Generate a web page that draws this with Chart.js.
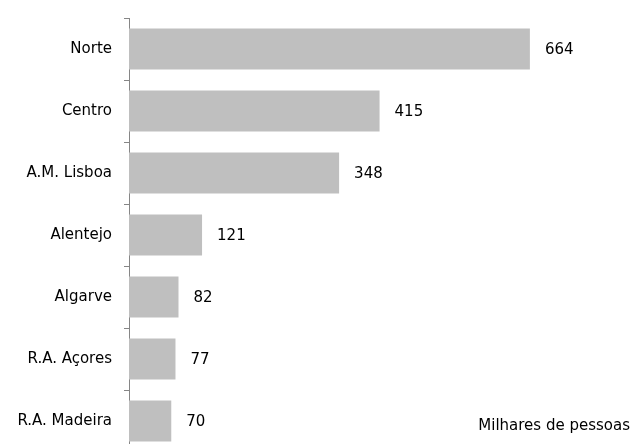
<!DOCTYPE html>
<html>
<head>
<meta charset="utf-8">
<script src="https://cdn.jsdelivr.net/npm/chart.js@4"></script>
<style>
  html, body { margin: 0; padding: 0; background: #fff; overflow: hidden; }
  #wrap { width: 636px; height: 444px; overflow: hidden; }
</style>
</head>
<body>
<div id="wrap"><canvas id="chart" width="636" height="452"></canvas></div>
<script>
const regions = ["Norte", "Centro", "A.M. Lisboa", "Alentejo", "Algarve", "R.A. Açores", "R.A. Madeira"]
const values  = [664, 415, 348, 121, 82, 77, 70]
const unitNote = "Milhares de pessoas"

const font      = "'DejaVu Sans', Verdana, sans-serif"
const axisColor = "#868686"

const valueLabels = {
  id: "valueLabels",
  afterDatasetsDraw(chart) {
    const ctx = chart.ctx
    const meta = chart.getDatasetMeta(0)
    ctx.save()
    ctx.font = `15px ${font}`
    ctx.fillStyle = "#000"
    ctx.textBaseline = "middle"
    ctx.textAlign = "left"
    meta.data.forEach((bar, i) => {
      ctx.fillText(String(values[i]), bar.x + 15, bar.y + 1)
    })
    ctx.textAlign = "right"
    ctx.fillText(unitNote, 630, 426)
    ctx.restore()
  }
}

new Chart(document.getElementById("chart"), {
  type: "bar",
  data: {
    labels: regions,
    datasets: [{
      data: values,
      backgroundColor: "#BFBFBF",
      borderWidth: 0,
      categoryPercentage: 1,
      barPercentage: 0.66
    }]
  },
  options: {
    indexAxis: "y",
    responsive: false,
    animation: false,
    layout: { padding: { top: 18, right: 24, bottom: 0, left: 0 } },
    plugins: {
      legend: { display: false },
      tooltip: { enabled: false }
    },
    scales: {
      x: {
        display: false,
        min: 0,
        max: 800
      },
      y: {
        afterFit: scale => {
          scale.width = 129
          scale.paddingTop = 0
          scale.paddingBottom = 0
        },
        grid: {
          drawOnChartArea: false,
          color: axisColor,
          tickLength: 5,
          offset: true
        },
        border: { color: axisColor, width: 1 },
        ticks: {
          color: "#000",
          padding: 12,
          font: { family: font, size: 15 }
        }
      }
    }
  },
  plugins: [valueLabels]
})
</script>
</body>
</html>
